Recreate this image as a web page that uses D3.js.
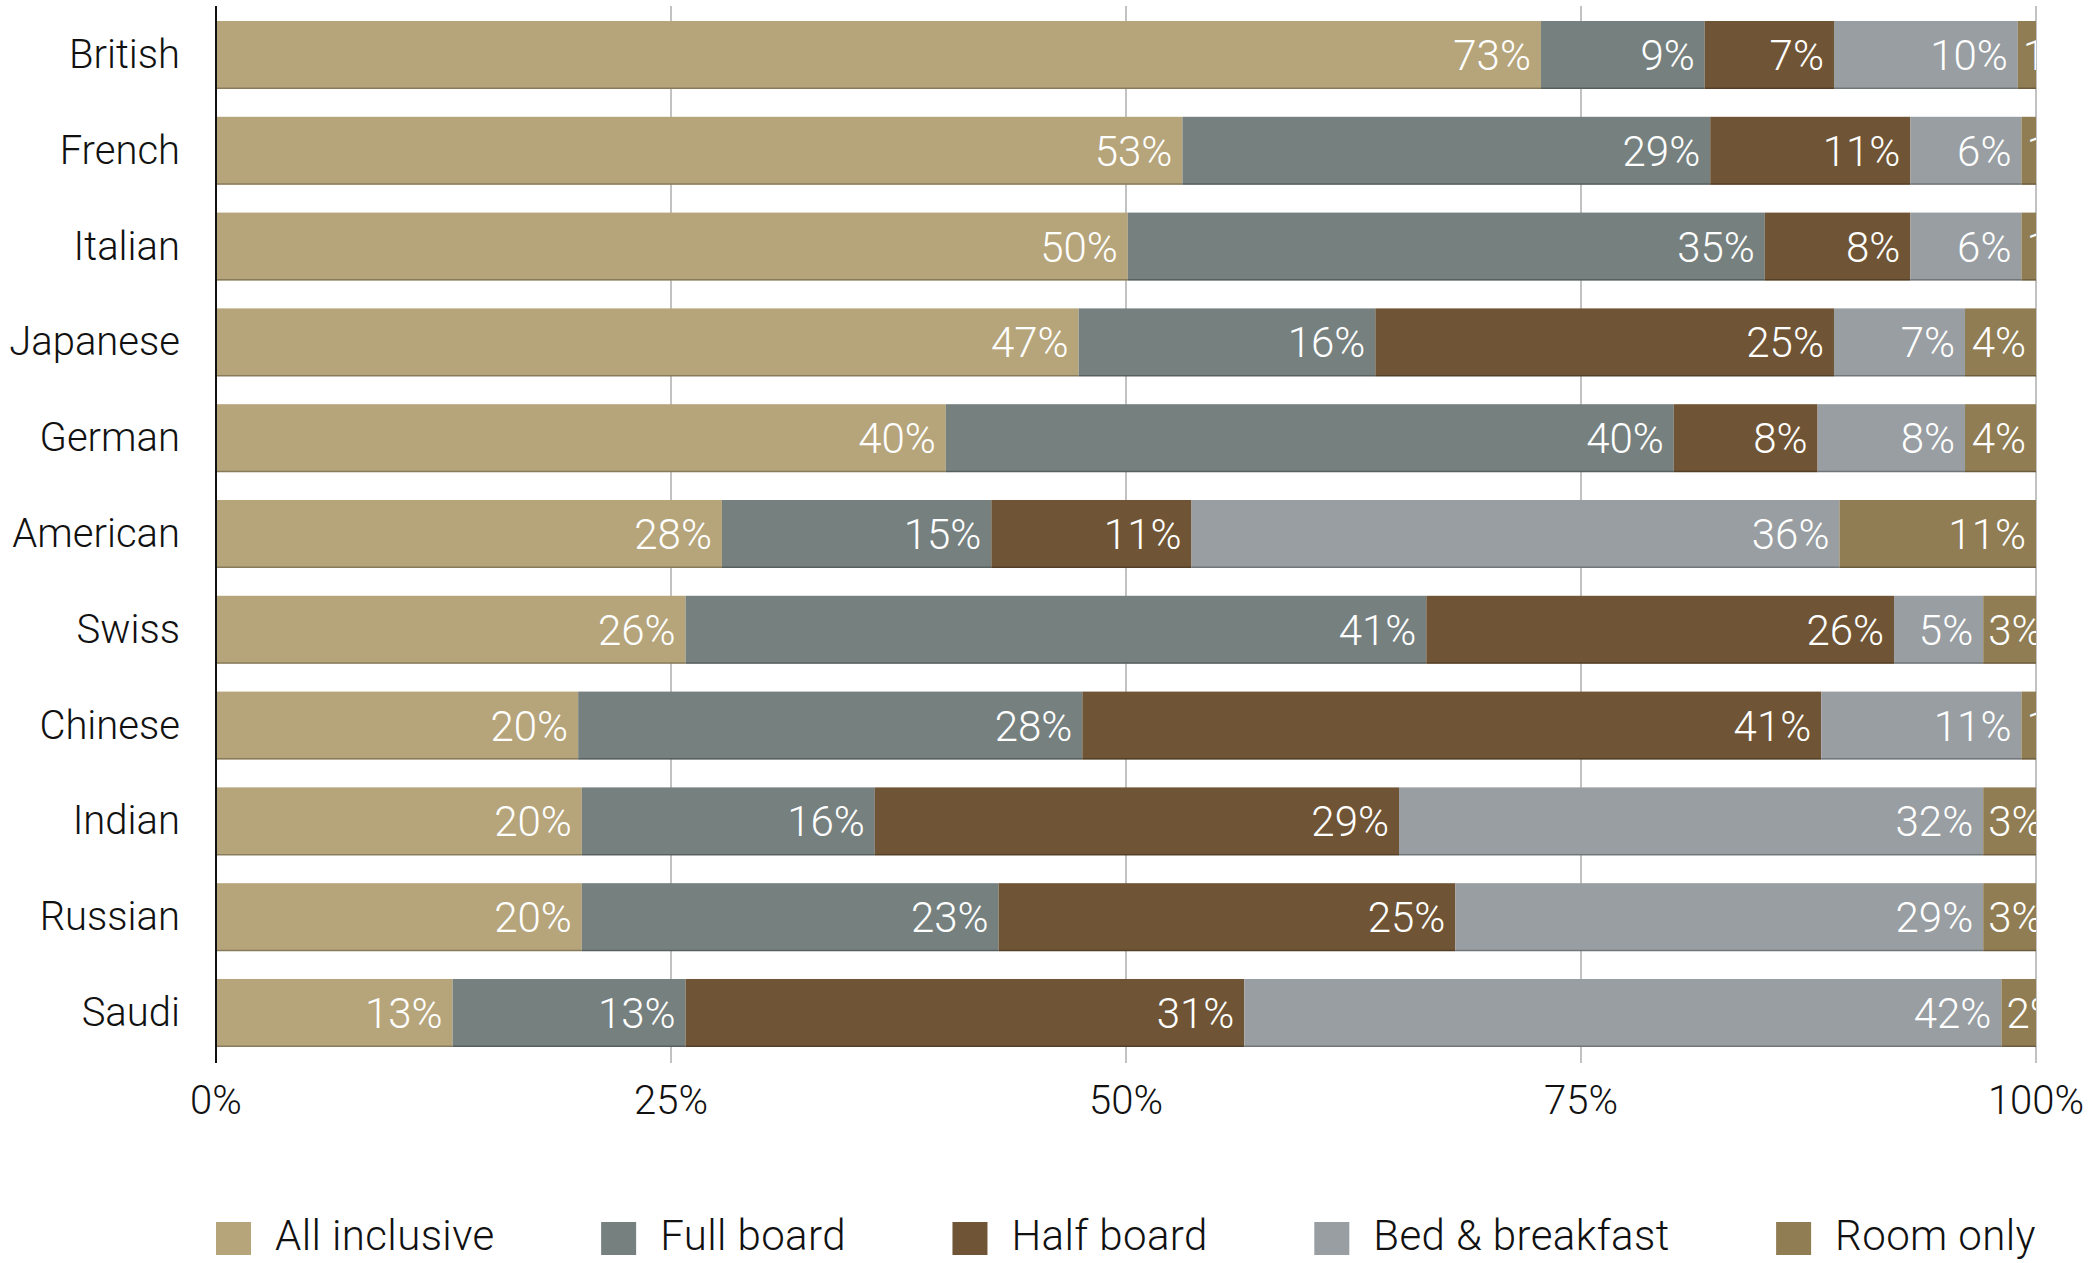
<!DOCTYPE html>
<html>
<head>
<meta charset="utf-8">
<script src="https://cdn.jsdelivr.net/npm/d3@7"></script>
<style>
  body { margin: 0; background: #fff; }
  svg { display: block; }
</style>
</head>
<body>
<script>
// nationalities, top to bottom
const categories = ["British", "French", "Italian", "Japanese", "German", "American", "Swiss", "Chinese", "Indian", "Russian", "Saudi"];
const seriesNames = ["All inclusive", "Full board", "Half board", "Bed & breakfast", "Room only"];
const seriesColors = ["#b6a57b", "#76817f", "#6f5535", "#989ea2", "#907d53"];

// shares in percent
const allInclusive = [72.8, 53.1, 50.1, 47.4, 40.1, 27.8, 25.8, 19.9, 20.1, 20.1, 13.0];
const fullBoard    = [9.0, 29.0, 35.0, 16.3, 40.0, 14.8, 40.7, 27.7, 16.1, 22.9, 12.8];
const halfBoard    = [7.1, 11.0, 8.0, 25.2, 7.9, 11.0, 25.7, 40.6, 28.8, 25.1, 30.7];
const bedBreakfast = [10.1, 6.1, 6.1, 7.2, 8.1, 35.6, 4.9, 11.0, 32.1, 29.0, 41.6];
const roomOnly     = [1.0, 0.8, 0.8, 3.9, 3.9, 10.8, 2.9, 0.8, 2.9, 2.9, 1.9];

const tickValues = [0, 25, 50, 75, 100];

const seriesValues = [allInclusive, fullBoard, halfBoard, bedBreakfast, roomOnly];
const rows = categories.map((c, i) => {
  let r = {country: c};
  seriesNames.forEach((s, j) => { r[s] = seriesValues[j][i]; });
  return r;
});

const W = 2089, H = 1263;
const left = 216, plotW = 1820;
const font = "'Helvetica Neue', Roboto, 'Liberation Sans', sans-serif";

const svg = d3.select("body").append("svg")
  .attr("width", W).attr("height", H);

const x = d3.scaleLinear().domain([0, 100]).range([left, left + plotW]);
const y = d3.scaleBand().domain(categories).range([21, 1047]).paddingInner(0.29).paddingOuter(0);

const stacked = d3.stack().keys(seriesNames)(rows);

svg.append("defs").append("clipPath").attr("id", "plotclip")
  .append("rect").attr("x", left).attr("y", 0).attr("width", plotW).attr("height", 1070);

// gridlines behind the bars
svg.append("g")
  .selectAll("line")
  .data(tickValues.slice(1))
  .enter().append("line")
  .attr("x1", d => x(d)).attr("x2", d => x(d))
  .attr("y1", 6).attr("y2", 1063)
  .attr("stroke", "#c2c2c2").attr("stroke-width", 2);

const layers = svg.append("g").attr("clip-path", "url(#plotclip)")
  .selectAll("g.layer")
  .data(stacked)
  .enter().append("g").attr("class", "layer")
  .attr("fill", (d, i) => seriesColors[i]);

layers.selectAll("rect")
  .data(d => d)
  .enter().append("rect")
  .attr("x", d => x(d[0]))
  .attr("y", d => y(d.data.country))
  .attr("width", d => x(d[1]) - x(d[0]))
  .attr("height", y.bandwidth());

// slightly darker lower edge on the bars
layers.selectAll("line")
  .data(d => d)
  .enter().append("line")
  .attr("x1", d => x(d[0])).attr("x2", d => x(d[1]))
  .attr("y1", d => y(d.data.country) + y.bandwidth() - 0.75)
  .attr("y2", d => y(d.data.country) + y.bandwidth() - 0.75)
  .attr("stroke", "#000").attr("stroke-opacity", 0.25).attr("stroke-width", 1.5);

// value labels
const pad = 10;
layers.selectAll("text")
  .data(d => d)
  .enter().append("text")
  .attr("y", d => y(d.data.country) + y.bandwidth() / 2 + 15)
  .attr("fill", "#fff")
  .style("font-family", font)
  .style("font-weight", 300)
  .style("font-size", "42px")
  .text(d => Math.round(d[1] - d[0]) + "%")
  .each(function(d) {
    let w = this.getComputedTextLength();
    let x0 = x(d[0]), x1 = x(d[1]);
    d3.select(this).attr("x", Math.max(x1 - pad - w, x0 + 5));
  });

// zero axis line
svg.append("line")
  .attr("x1", x(0)).attr("x2", x(0))
  .attr("y1", 6).attr("y2", 1063)
  .attr("stroke", "#111").attr("stroke-width", 2);

// category labels
svg.append("g")
  .selectAll("text")
  .data(categories)
  .enter().append("text")
  .attr("x", left - 36)
  .attr("y", d => y(d) + y.bandwidth() / 2 + 13)
  .attr("text-anchor", "end")
  .attr("fill", "#111")
  .style("font-family", font)
  .style("font-weight", 300)
  .style("font-size", "40px")
  .text(d => d);

// x tick labels
svg.append("g")
  .selectAll("text")
  .data(tickValues)
  .enter().append("text")
  .attr("x", d => x(d))
  .attr("y", 1114)
  .attr("text-anchor", "middle")
  .attr("fill", "#111")
  .style("font-family", font)
  .style("font-weight", 300)
  .style("font-size", "40px")
  .text(d => d + "%");

// legend, spread across the plot width
const legend = svg.append("g");
const items = legend.selectAll("g")
  .data(seriesNames)
  .enter().append("g");
items.append("rect")
  .attr("y", 1222).attr("width", 35).attr("height", 33)
  .attr("fill", (d, i) => seriesColors[i]);
items.append("text")
  .attr("x", 59).attr("y", 1250)
  .attr("fill", "#111")
  .style("font-family", font)
  .style("font-weight", 300)
  .style("font-size", "42px")
  .style("letter-spacing", "0.4px")
  .text(d => d);

let widths = [];
items.each(function() { widths.push(59 + d3.select(this).select("text").node().getComputedTextLength()); });
let gap = (plotW - d3.sum(widths)) / (widths.length - 1);
let cx = left;
items.each(function(d, i) {
  d3.select(this).attr("transform", "translate(" + cx + ",0)");
  cx += widths[i] + gap;
});
</script>
</body>
</html>
